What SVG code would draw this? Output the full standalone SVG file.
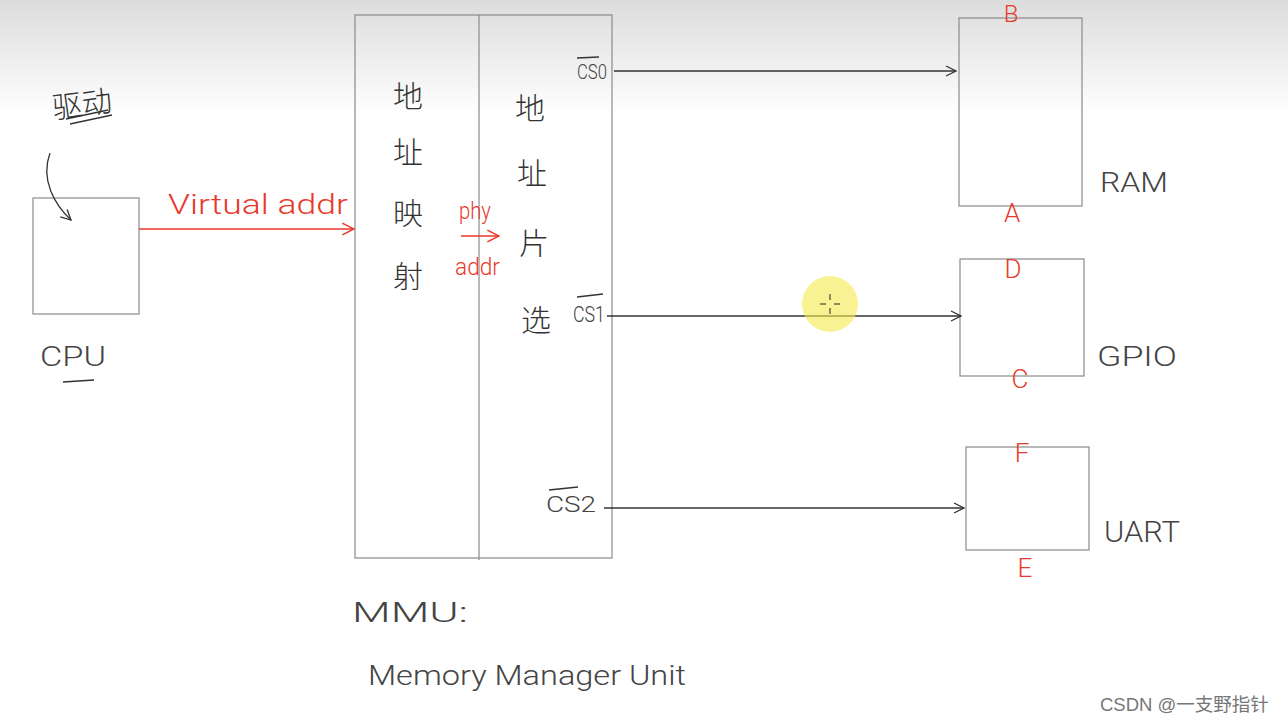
<svg xmlns="http://www.w3.org/2000/svg" width="1288" height="723" viewBox="0 0 1288 723">
<defs>
<linearGradient id="bg" x1="0" y1="0" x2="0" y2="1">
<stop offset="0" stop-color="#dcdcdc"/>
<stop offset="1" stop-color="#ffffff"/>
</linearGradient>
<marker id="ab" viewBox="0 0 12 12" refX="11" refY="6" markerWidth="12" markerHeight="12" markerUnits="userSpaceOnUse" orient="auto">
<path d="M1,1 L11,6 L1,11" fill="none" stroke="#333" stroke-width="1.3"/>
</marker>
<marker id="ar" viewBox="0 0 12 12" refX="11" refY="6" markerWidth="14" markerHeight="14" markerUnits="userSpaceOnUse" orient="auto">
<path d="M1,1 L11,6 L1,11" fill="none" stroke="#e8392b" stroke-width="1.3"/>
</marker>
</defs>
<style>
.box{fill:none;stroke:#8a8a8a;stroke-width:1.2}
.blk{stroke:#333;stroke-width:1.3;fill:none}
.red{stroke:#e8392b;stroke-width:1.5;fill:none}
.t{font-family:Roboto,"Liberation Sans",Arial,sans-serif;fill:#444;font-weight:300}
.tr{font-family:Roboto,"Liberation Sans",Arial,sans-serif;fill:#e8392b;font-weight:300}
.cn{font-family:"Noto Sans CJK SC",sans-serif;fill:#333;font-size:30px;font-weight:300;text-anchor:middle}
</style>
<rect x="0" y="0" width="1288" height="723" fill="#ffffff"/>
<rect x="0" y="0" width="1288" height="115" fill="url(#bg)"/>

<g id="driver-note">
<text class="cn" x="82" y="115" font-size="30" transform="rotate(-8 82 105)">驱动</text>
<line class="blk" x1="66" y1="119" x2="108" y2="110" stroke-width="1"/>
<line class="blk" x1="70" y1="124" x2="112" y2="115" stroke-width="1"/>
</g>

<g id="cpu">
<rect class="box" x="33" y="198" width="106" height="116"/>
<text class="t" x="40" y="366" font-size="28" textLength="66" lengthAdjust="spacingAndGlyphs">CPU</text>
<line class="blk" x1="63" y1="382" x2="94" y2="380" stroke-width="1.2"/>
</g>

<g id="mmu">
<rect class="box" x="355" y="15" width="257" height="543"/>
<line class="box" x1="479" y1="15" x2="479" y2="560"/>
<text class="cn" x="408" y="107">地</text>
<text class="cn" x="408" y="163">址</text>
<text class="cn" x="408" y="224">映</text>
<text class="cn" x="408" y="287">射</text>
<text class="cn" x="530" y="119">地</text>
<text class="cn" x="532" y="184">址</text>
<text class="cn" x="534" y="254">片</text>
<text class="cn" x="536" y="331">选</text>
<text class="tr" x="459" y="219" font-size="24" textLength="32" lengthAdjust="spacingAndGlyphs">phy</text>
<text class="tr" x="455" y="275" font-size="24" textLength="45" lengthAdjust="spacingAndGlyphs">addr</text>
<text class="t" x="577" y="79" font-size="20" textLength="30" lengthAdjust="spacingAndGlyphs">CS0</text>
<line class="blk" x1="577" y1="58" x2="599" y2="57" stroke-width="1.1"/>
<text class="t" x="573" y="322" font-size="22" textLength="32" lengthAdjust="spacingAndGlyphs">CS1</text>
<line class="blk" x1="577" y1="297" x2="603" y2="294" stroke-width="1.1"/>
<text class="t" x="546" y="512" font-size="22" textLength="50" lengthAdjust="spacingAndGlyphs">CS2</text>
<line class="blk" x1="549" y1="490" x2="578" y2="487" stroke-width="1.1"/>
<text class="t" x="352" y="622" font-size="28" textLength="116" lengthAdjust="spacingAndGlyphs">MMU:</text>
<text class="t" x="368" y="685" font-size="28" textLength="318" lengthAdjust="spacingAndGlyphs">Memory  Manager  Unit</text>
</g>

<g id="ram">
<rect class="box" x="959" y="18" width="123" height="188"/>
<text class="t" x="1100" y="192" font-size="28" textLength="68" lengthAdjust="spacingAndGlyphs">RAM</text>
<text class="tr" x="1011" y="22" font-size="24" text-anchor="middle">B</text>
<text class="tr" x="1012" y="222" font-size="26" text-anchor="middle">A</text>
</g>

<g id="gpio">
<rect class="box" x="960" y="259" width="124" height="117"/>
<text class="t" x="1097" y="366" font-size="28" textLength="80" lengthAdjust="spacingAndGlyphs">GPIO</text>
<text class="tr" x="1013" y="278" font-size="26" text-anchor="middle">D</text>
<text class="tr" x="1020" y="388" font-size="26" text-anchor="middle">C</text>
</g>

<g id="uart">
<rect class="box" x="966" y="447" width="123" height="103"/>
<text class="t" x="1104" y="542" font-size="30" textLength="76" lengthAdjust="spacingAndGlyphs">UART</text>
<text class="tr" x="1022" y="462" font-size="26" text-anchor="middle">F</text>
<text class="tr" x="1025" y="577" font-size="26" text-anchor="middle">E</text>
</g>

<g id="connectors">
<path class="blk" d="M50,153 C40,180 55,205 71,220" marker-end="url(#ab)"/>
<line class="red" x1="139" y1="229" x2="354" y2="229" marker-end="url(#ar)"/>
<text class="tr" x="168" y="214" font-size="28" textLength="180" lengthAdjust="spacingAndGlyphs">Virtual addr</text>
<line class="red" x1="461" y1="236" x2="499" y2="236" stroke-width="1.3" marker-end="url(#ar)"/>
<line class="blk" x1="614" y1="71" x2="956" y2="71" marker-end="url(#ab)"/>
<line class="blk" x1="607" y1="316" x2="961" y2="316" marker-end="url(#ab)"/>
<line class="blk" x1="604" y1="508" x2="964" y2="508" marker-end="url(#ab)"/>
</g>

<g id="cursor">
<circle cx="830" cy="304" r="28" fill="#f5ea4a" fill-opacity="0.6"/>
<path d="M830,294 v6 M830,308 v6 M820,304 h6 M834,304 h6" stroke="#222" stroke-width="1"/>
</g>

<text x="1100" y="711" font-family="'Liberation Sans','Noto Sans CJK SC',sans-serif" font-size="18.5" fill="#777">CSDN @一支野指针</text>
</svg>
